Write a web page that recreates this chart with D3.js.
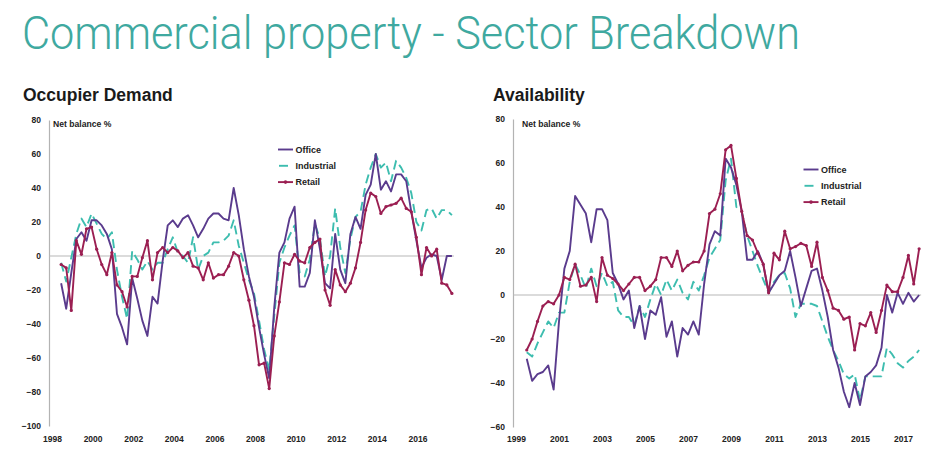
<!DOCTYPE html>
<html><head><meta charset="utf-8">
<script src="https://cdn.jsdelivr.net/npm/d3@7"></script>
<style>
html,body{margin:0;padding:0;background:#fff;}
svg{display:block;font-family:"Liberation Sans",Arial,sans-serif;}
</style></head>
<body>
<svg id="chart" width="948" height="460"></svg>
<script>
// ---------- DATA ----------
const titleText = "Commercial property - Sector Breakdown";
const demandTitle = "Occupier Demand";
const availTitle = "Availability";
const unitLabel = "Net balance %";
const seriesNames = ["Office", "Industrial", "Retail"];

// Occupier demand: quarterly, 1998 Q2 .. 2017 Q3
const demandStartYear = 1998, demandStartQ = 2;
const demandOffice = [-16,-31,-10,10,14,9,21,21,18,13,4,-34,-42,-52,-13,-25,-38,-47,-24,-28,
  -3,18,21,17,22,24,18,11,16,22,25,25,22,21,40,24,4,-12,-24,-42,
  -58,-72,-30,2,8,22,29,-18,-18,-10,21,4,-16,-19,13,-8,-16,13,23,16,
  36,42,60,39,44,38,48,48,44,26,9,-7,-1,1,0,-14,0,0];
const demandIndustrial = [-4,-15,-1,13,22,17,25,19,13,10,14,-8,-24,-37,3,-2,-8,-3,-8,-4,
  -4,4,11,2,0,-4,11,-8,0,2,8,8,9,12,21,6,-4,-14,-22,-38,
  -55,-67,-35,-4,5,12,18,-10,-12,-2,19,10,-12,0,28,5,-10,10,23,26,
  42,52,60,52,55,44,56,52,46,37,20,15,27,28,22,27,27,24];
const demandRetail = [-5,-7,-32,9,1,16,17,4,-5,-11,2,-17,-21,-30,-12,-12,-1,9,-14,2,
  5,2,5,3,-1,2,-6,-7,-14,-4,-13,-11,-11,-6,2,0,-14,-26,-41,-64,
  -63,-78,-47,-27,-4,-5,1,-3,-4,5,8,10,-20,-29,-8,-17,-21,-16,-7,8,
  27,37,35,25,29,30,31,34,28,26,11,-11,5,0,4,-16,-17,-22];
const demandYTicks = [80,60,40,20,0,-20,-40,-60,-80,-100];
const demandXTicks = [1998,2000,2002,2004,2006,2008,2010,2012,2014,2016];

// Availability: quarterly, 1999 Q3 .. 2017 Q4
const availStartYear = 1999, availStartQ = 3;
const availOffice = [-29,-39,-36,-35,-32,-43,-12,12,20,45,41,37,24,39,39,34,10,5,-2,2,
  -15,-5,-20,-7,-9,-1,-19,-12,-28,-15,-18,-12,-18,5,23,29,27,62,58,50,
  38,16,16,20,14,1,5,9,11,20,8,-5,3,11,12,2,-10,-25,-33,-44,
  -51,-40,-50,-37,-35,-32,-24,0,-8,1,-4,1,-3,0];
const availIndustrial = [-26,-28,-22,-17,-12,-15,-8,-8,6,14,9,3,12,4,10,4,6,-7,-10,-10,
  -14,-5,-10,-2,5,0,7,2,7,1,-2,6,2,9,17,21,25,52,62,40,
  38,27,20,13,7,1,6,9,10,3,-10,-4,-4,-4,-5,-12,-19,-25,-30,-36,
  -38,-36,-48,-37,-37,-37,-37,-24,-27,-31,-33,-30,-28,-25];
const availRetail = [-25,-20,-12,-5,-3,-4,0,8,7,14,4,4.5,8,-3,17,9,7.5,5,2,5,
  8,8,2,4,7,17,17,13,20,11,13.5,15,15,20,37,39,46,66,68,53,
  38,27,25,19,14,1,19,16,29,21,22,23.5,22.5,13,24,8,2,-6,-7,-11,
  -10,-25,-13,-14,-8,-17,-7,4.5,1.5,1.5,8,18,5,21];
const availYTicks = [80,60,40,20,0,-20,-40,-60];
const availXTicks = [1999,2001,2003,2005,2007,2009,2011,2013,2015,2017];

// ---------- STYLE ----------
const colors = {Office:"#5a3b8d", Industrial:"#3dbdaf", Retail:"#9b1f52"};
const svg = d3.select("#chart");

function quarters(startYear, startQ, n, offset){
  const out = [];
  let y = startYear, q = startQ;
  for (let i = 0; i < n; i++){
    out.push({label: y + " Q" + q, t: y + (q - 1) / 4 + offset});
    q++; if (q > 4){ q = 1; y++; }
  }
  return out;
}

svg.append("text")
  .attr("x", 22).attr("y", 49)
  .attr("font-family", "Roboto, 'Open Sans', sans-serif")
  .attr("font-weight", 300)
  .attr("font-size", 46)
  .attr("fill", "#3fa9a0")
  .attr("textLength", 778)
  .attr("lengthAdjust", "spacingAndGlyphs")
  .text(titleText);

function panel(opt){
  const g = svg.append("g");
  const x = d3.scaleLinear().domain(opt.xDomain).range(opt.xRange);
  const y = d3.scaleLinear().domain(opt.yDomain).range(opt.yRange);
  const q = quarters(opt.startYear, opt.startQ, opt.series[0].length, opt.offset);

  g.append("text").attr("x", opt.titleX).attr("y", 101)
    .attr("font-size", 17.5).attr("font-weight", "bold").attr("fill", "#1a1a1a")
    .text(opt.title);

  g.append("text").attr("x", opt.unitX).attr("y", 126.5)
    .attr("font-size", 8.6).attr("font-weight", "bold").attr("fill", "#222")
    .text(unitLabel);

  // y axis
  const ya = g.append("g").attr("transform", `translate(${opt.axisX},0)`)
    .call(d3.axisLeft(y).tickValues(opt.yTicks).tickSize(0).tickSizeOuter(0).tickPadding(8));
  ya.select(".domain").attr("stroke", "#b3b3b3").attr("stroke-width", 1.2);
  ya.selectAll("text").attr("font-size", 8.5).attr("font-weight", "bold")
    .attr("fill", "#222").attr("font-family", "'Liberation Sans',Arial,sans-serif");

  // x axis labels
  const xa = g.append("g").attr("transform", `translate(0,${opt.xLabelY})`)
    .call(d3.axisBottom(x).tickValues(opt.xTicks).tickFormat(d3.format("d")).tickSize(0).tickPadding(3));
  xa.select(".domain").remove();
  xa.selectAll("text").attr("font-size", 8.5).attr("font-weight", "bold")
    .attr("fill", "#222").attr("font-family", "'Liberation Sans',Arial,sans-serif");

  // zero line
  g.append("line")
    .attr("x1", opt.axisX).attr("x2", x(q[q.length - 1].t) + 2)
    .attr("y1", y(0)).attr("y2", y(0))
    .attr("stroke", "#b8b8b8").attr("stroke-width", 1.2);

  const line = d3.line().x((d, i) => x(q[i].t)).y(d => y(d));
  // draw order: industrial, office, retail
  const order = [1, 0, 2];
  order.forEach(k => {
    const name = seriesNames[k];
    const vals = opt.series[k];
    const p = g.append("path").datum(vals)
      .attr("d", line).attr("fill", "none")
      .attr("stroke", colors[name]).attr("stroke-width", 1.9)
      .attr("stroke-linejoin", "round");
    if (name === "Industrial") p.attr("stroke-dasharray", "9,5");
    if (name === "Retail"){
      g.append("g").selectAll("circle").data(vals).join("circle")
        .attr("cx", (d, i) => x(q[i].t)).attr("cy", d => y(d))
        .attr("r", 1.6).attr("fill", colors[name]);
    }
  });

  // legend
  const lg = g.append("g").attr("transform", `translate(${opt.legX},${opt.legY})`);
  seriesNames.forEach((name, i) => {
    const yy = i * 16.3;
    const l = lg.append("line").attr("x1", 0).attr("x2", 15).attr("y1", yy).attr("y2", yy)
      .attr("stroke", colors[name]).attr("stroke-width", 1.9);
    if (name === "Industrial") l.attr("stroke-dasharray", "9,5").attr("x1", 1);
    if (name === "Retail") lg.append("circle").attr("cx", 7.5).attr("cy", yy).attr("r", 1.8).attr("fill", colors[name]);
    lg.append("text").attr("x", 17.5).attr("y", yy).attr("dy", "0.35em")
      .attr("font-size", 9).attr("font-weight", "bold").attr("fill", "#222")
      .text(name);
  });
}

panel({
  title: demandTitle, titleX: 23, unitX: 53,
  xDomain: [1998, 2018], xRange: [52, 458],
  yDomain: [-100, 80], yRange: [426, 120],
  axisX: 49, xLabelY: 433,
  startYear: demandStartYear, startQ: demandStartQ, offset: 0.2,
  series: [demandOffice, demandIndustrial, demandRetail],
  yTicks: demandYTicks, xTicks: demandXTicks,
  legX: 278, legY: 149.5
});

panel({
  title: availTitle, titleX: 493, unitX: 522,
  xDomain: [1999, 2018], xRange: [516, 924.5],
  yDomain: [-60, 80], yRange: [427, 119],
  axisX: 513, xLabelY: 433,
  startYear: availStartYear, startQ: availStartQ, offset: 0,
  series: [availOffice, availIndustrial, availRetail],
  yTicks: availYTicks, xTicks: availXTicks,
  legX: 803.5, legY: 169.5
});
</script>
</body></html>
